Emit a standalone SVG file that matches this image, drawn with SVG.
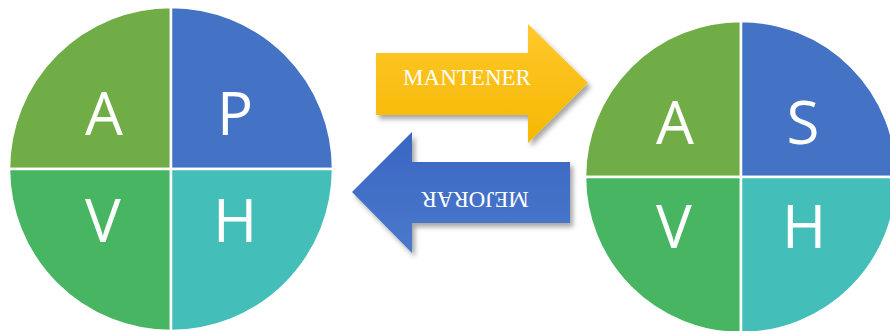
<svg xmlns="http://www.w3.org/2000/svg" width="890" height="331" viewBox="0 0 890 331">
<defs>
<style>
.q{stroke:#fff;stroke-width:2.5}
.g1{fill:#70AD47}.b{fill:#4472C4}.g2{fill:#48B563}.t{fill:#43BEB8}
.L{font-family:"Open Sans","Noto Sans",sans-serif;font-size:60px;fill:#fff;text-anchor:middle}
.A{font-family:"Liberation Serif","Times New Roman",serif;font-size:23px;fill:#fff;text-anchor:middle}
</style>
<linearGradient id="gy" x1="0" y1="0" x2="0" y2="1">
<stop offset="0" stop-color="#FFC82E"/><stop offset="1" stop-color="#F5B800"/>
</linearGradient>
<linearGradient id="gb" x1="0" y1="0" x2="0" y2="1">
<stop offset="0" stop-color="#3A66C2"/><stop offset="1" stop-color="#4A79CC"/>
</linearGradient>
<filter id="sh" x="-10%" y="-10%" width="125%" height="130%">
<feDropShadow dx="3" dy="4" stdDeviation="2.5" flood-color="#000" flood-opacity="0.35"/>
</filter>
</defs>
<g id="cycle-left">
<path class="q g1" d="M171 169 L9 169 A162 162 0 0 1 171 7 Z"/>
<path class="q b" d="M171 169 L171 7 A162 162 0 0 1 333 169 Z"/>
<path class="q g2" d="M171 169 L171 331 A162 162 0 0 1 9 169 Z"/>
<path class="q t" d="M171 169 L333 169 A162 162 0 0 1 171 331 Z"/>
<text class="L" x="104" y="135">A</text>
<text class="L" x="235" y="135">P</text>
<text class="L" x="103" y="242">V</text>
<text class="L" x="235" y="242">H</text>
</g>
<g id="cycle-right">
<path class="q g1" d="M741 177 L585 177 A156 156 0 0 1 741 21 Z"/>
<path class="q b" d="M741 177 L741 21 A156 156 0 0 1 897 177 Z"/>
<path class="q g2" d="M741 177 L741 333 A156 156 0 0 1 585 177 Z"/>
<path class="q t" d="M741 177 L897 177 A156 156 0 0 1 741 333 Z"/>
<text class="L" x="675" y="144">A</text>
<text class="L" x="803" y="144">S</text>
<text class="L" x="674" y="248">V</text>
<text class="L" x="804" y="248">H</text>
</g>
<g id="connectors">
<g id="mantener">
<path fill="url(#gy)" filter="url(#sh)" d="M376 53 L528 53 L528 24 L588 83 L528 143 L528 115 L376 115 Z"/>
<text class="A" x="467" y="85">MANTENER</text>
</g>
<g id="mejorar">
<path fill="url(#gb)" filter="url(#sh)" d="M570 162 L412 162 L412 132 L352 192 L412 253 L412 223 L570 223 Z"/>
<text class="A" x="475" y="208" transform="rotate(180 475 200)">MEJORAR</text>
</g>
</g>
</svg>
